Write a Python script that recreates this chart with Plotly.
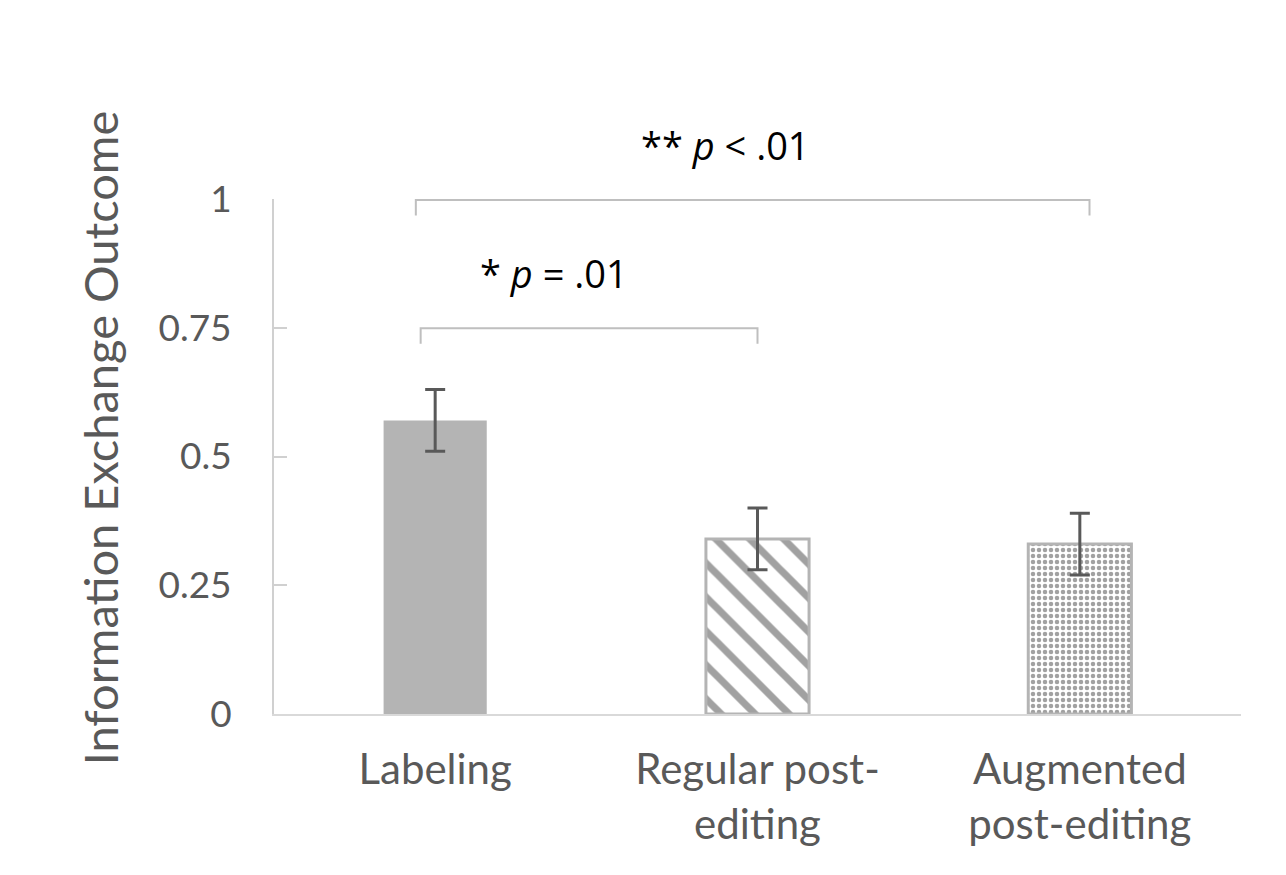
import plotly.graph_objects as go

categories = ["Labeling", "Regular post-<br>editing", "Augmented<br>post-editing"]
means = [0.57, 0.34, 0.33]
errors = [0.06, 0.06, 0.06]
y_ticks = [0, 0.25, 0.5, 0.75, 1]
y_tick_labels = ["0", "0.25", "0.5", "0.75", "1"]

grey = "#b4b4b4"
text_grey = "#595959"

fig = go.Figure()

fig.add_trace(go.Bar(
    x=categories,
    y=means,
    width=0.32,
    error_y=dict(type="data", array=errors, color=text_grey, thickness=3, width=10),
    marker=dict(
        color=["#b4b4b4", "white", "white"],
        line=dict(color=grey, width=[0, 3, 3]),
        pattern=dict(
            shape=["", "\\", "."],
            fgcolor=grey,
            bgcolor="white",
            size=[10, 24, 6],
            solidity=[0.3, 0.3, 0.45],
            fillmode="overlay",
        ),
    ),
    showlegend=False,
))

# significance brackets (x in category index units, label y in paper units = data units here)
brackets = [
    dict(x0=-0.06, x1=2.03, y=0.998, leg=0.03, label="** <i>p</i> &lt; .01", lx=0.90, ly=1.105),
    dict(x0=-0.045, x1=1.0, y=0.749, leg=0.03, label="* <i>p</i> = .01", lx=0.37, ly=0.856),
]
for b in brackets:
    fig.add_shape(
        type="path",
        path=f"M {b['x0']},{b['y'] - b['leg']} L {b['x0']},{b['y']} L {b['x1']},{b['y']} L {b['x1']},{b['y'] - b['leg']}",
        xref="x", yref="y",
        line=dict(color="#bfbfbf", width=2),
    )
    fig.add_annotation(
        x=b["lx"], y=b["ly"], xref="x", yref="paper",
        xanchor="center", yanchor="middle",
        text=b["label"], showarrow=False,
        font=dict(family="Open Sans", size=38, color="black"),
    )

# y axis title as annotation (sits a bit above the plot centre)
fig.add_annotation(
    x=-0.179, y=0.537, xref="paper", yref="paper",
    text="Information Exchange Outcome", textangle=-90, showarrow=False,
    xanchor="center", yanchor="middle",
    font=dict(family="Lato", size=47, color=text_grey),
)

fig.update_layout(
    width=1286,
    height=875,
    paper_bgcolor="white",
    plot_bgcolor="white",
    margin=dict(l=266, r=53, t=191, b=169),
    font=dict(family="Lato", color=text_grey, size=42),
    bargap=0.68,
)

fig.update_yaxes(
    range=[0, 1],
    tickvals=y_ticks,
    ticktext=y_tick_labels,
    showgrid=False,
    zeroline=False,
    showline=True,
    linecolor="#d0d0d0",
    linewidth=2,
    ticks="inside",
    ticklen=13,
    tickwidth=2,
    tickcolor="#d0d0d0",
    tickfont=dict(family="Lato", size=37, color=text_grey),
    ticklabelstandoff=33,
)
fig.update_xaxes(
    showgrid=False,
    showline=True,
    linecolor="#d9d9d9",
    linewidth=2,
    ticks="",
    tickfont=dict(family="Lato", size=42, color=text_grey),
    ticklabelstandoff=18,
)

fig.write_html("out.html")
